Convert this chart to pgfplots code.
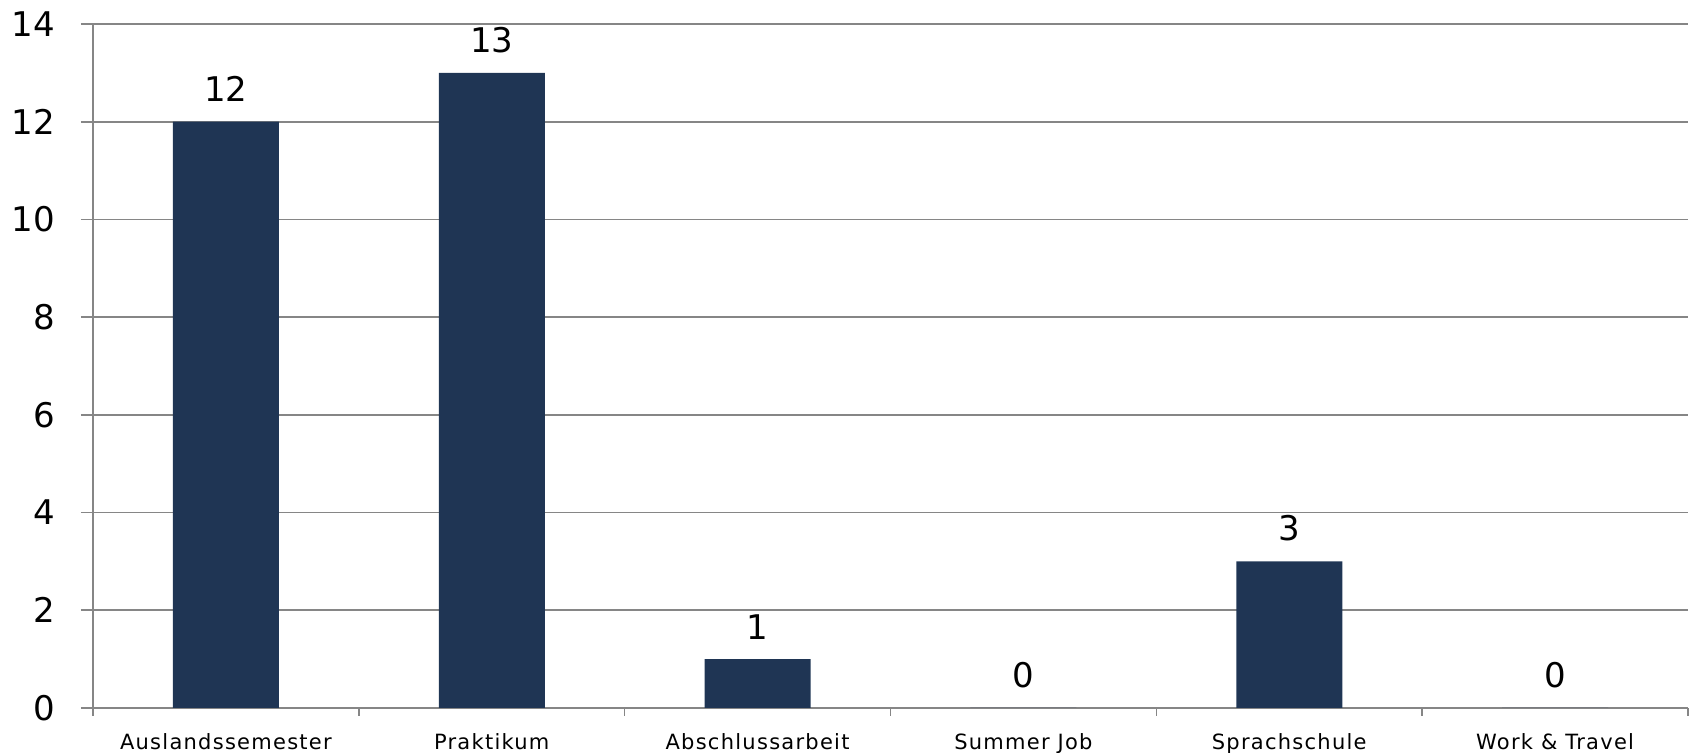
\documentclass[border=0pt]{standalone}
\usepackage{pgfplots}
\pgfplotsset{compat=1.18}
\usepackage{fontspec}
\setmainfont{DejaVu Sans}
\definecolor{barblue}{RGB}{31,53,84}
\definecolor{gridgray}{RGB}{134,134,134}
\begin{document}
\begin{tikzpicture}
\useasboundingbox (-46.5pt,-22.5pt) rectangle (799.5pt,354pt);
\begin{axis}[
  at={(0,0)}, anchor=south west,
  scale only axis,
  width=797.5pt, height=342pt,
  xmin=-0.5, xmax=5.5,
  ymin=0, ymax=14,
  ytick={0,2,...,14},
  xtick={0,...,5},
  xticklabels={Auslandssemester,Praktikum,Abschlussarbeit,Summer Job,Sprachschule,Work \& Travel},
  minor xtick={-0.5,0.5,...,5.5},
  major x tick style={draw=none},
  minor x tick style={draw=gridgray, line width=0.8pt},
  minor tick length=4pt,
  major tick length=6pt,
  tick align=outside,
  xtick pos=bottom, ytick pos=left,
  axis x line*=bottom, axis y line*=left,
  axis line style={draw=gridgray, line width=0.8pt, -},
  y tick style={draw=gridgray, line width=0.8pt},
  ymajorgrids,
  grid style={draw=gridgray, line width=0.8pt},
  /pgf/number format/assume math mode=true,
  yticklabel style={font=\fontsize{17}{20}\selectfont, text=black, xshift=-9.5pt},
  xticklabel style={font=\fontsize{10.5}{12}\selectfont\addfontfeature{LetterSpace=6}, text=black, yshift=-3pt},
  ybar, bar width=53pt,
  nodes near coords,
  every node near coord/.append style={font=\fontsize{17}{20}\selectfont, text=black, yshift=6.5pt},
  clip=false,
]
\addplot[fill=barblue, draw=none] coordinates {(0,12) (1,13) (2,1) (3,0) (4,3) (5,0)};
\end{axis}
\end{tikzpicture}
\end{document}
